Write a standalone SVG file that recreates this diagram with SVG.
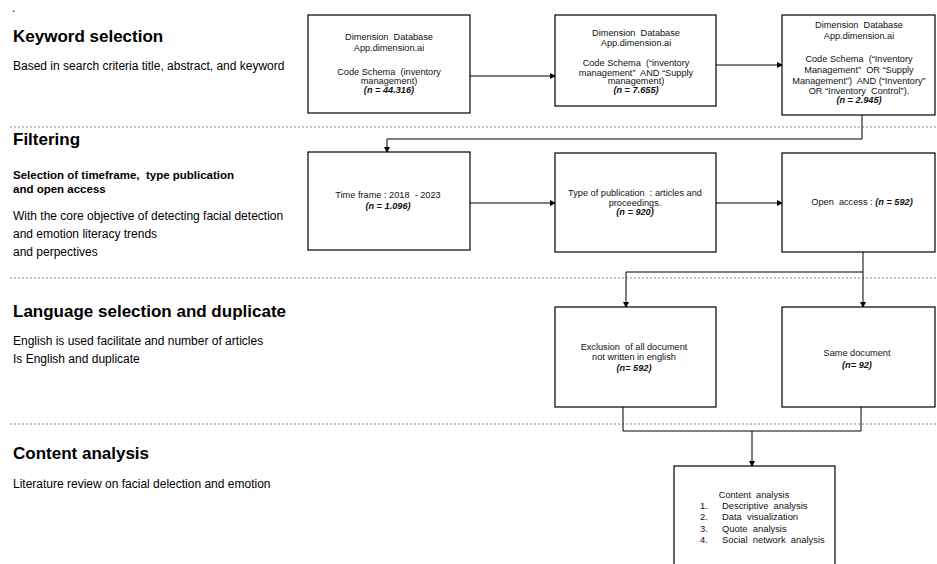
<svg xmlns="http://www.w3.org/2000/svg" width="937" height="564" viewBox="0 0 937 564">
<defs>
<marker id="ah" markerWidth="6" markerHeight="6" refX="5" refY="3" orient="auto" markerUnits="userSpaceOnUse">
<path d="M0,0 L6,3 L0,6 Z" fill="#000"/>
</marker>
<style>
text{white-space:pre}
.box{fill:#fff;stroke:#000;stroke-width:1.2}
.t{font-family:"Liberation Sans",Arial,sans-serif;font-size:9.2px;fill:#111;text-anchor:middle}
.n{font-style:italic;font-weight:bold}
.c{fill:none;stroke:#000;stroke-width:1}
.sep{stroke:#888;stroke-width:1;stroke-dasharray:2,2}
.h{font-family:"Liberation Sans",Arial,sans-serif;font-size:17px;font-weight:bold;fill:#000}
.d{font-family:"Liberation Sans",Arial,sans-serif;font-size:12px;fill:#000}
.b{font-family:"Liberation Sans",Arial,sans-serif;font-size:11.5px;font-weight:bold;fill:#000}
.l{font-family:"Liberation Sans",Arial,sans-serif;font-size:9.4px;fill:#111}
</style>
</defs>
<rect width="937" height="564" fill="#fff"/>

<g id="separators">
<line class="sep" x1="10" y1="127" x2="937" y2="127"/>
<line class="sep" x1="10" y1="278" x2="937" y2="278"/>
<line class="sep" x1="10" y1="424" x2="937" y2="424"/>
</g>

<g id="labels">
<text class="d" x="12" y="12">.</text>
<text class="h" x="13" y="42">Keyword selection</text>
<text class="d" x="13" y="70">Based in search criteria title, abstract, and keyword</text>
<text class="h" x="13" y="145">Filtering</text>
<text class="b" x="13" y="179">Selection of timeframe,  type publication</text>
<text class="b" x="13" y="193">and open access</text>
<text class="d" x="13" y="220">With the core objective of detecting facial detection</text>
<text class="d" x="13" y="238">and emotion literacy trends</text>
<text class="d" x="13" y="256">and perpectives</text>
<text class="h" x="13" y="317">Language selection and duplicate</text>
<text class="d" x="13" y="345">English is used facilitate and number of articles</text>
<text class="d" x="13" y="363">Is English and duplicate</text>
<text class="h" x="13" y="459">Content analysis</text>
<text class="d" x="13" y="488">Literature review on facial delection and emotion</text>
</g>

<g id="connectors">
<line class="c" x1="470" y1="76" x2="555" y2="76" marker-end="url(#ah)"/>
<line class="c" x1="716" y1="65" x2="782" y2="65" marker-end="url(#ah)"/>
<polyline class="c" points="862,115 862,139 387,139 387,152" marker-end="url(#ah)"/>
<line class="c" x1="470" y1="203" x2="555" y2="203" marker-end="url(#ah)"/>
<line class="c" x1="716" y1="203" x2="782" y2="203" marker-end="url(#ah)"/>
<line class="c" x1="863" y1="252" x2="863" y2="307" marker-end="url(#ah)"/>
<polyline class="c" points="863,272 626,272 626,307" marker-end="url(#ah)"/>
<polyline class="c" points="623,407 623,431 861,431 861,407"/>
<line class="c" x1="752" y1="431" x2="752" y2="466" marker-end="url(#ah)"/>
</g>

<g id="box1">
<rect class="box" x="308" y="15" width="162" height="98"/>
<text class="t" x="389" y="40">Dimension  Database</text>
<text class="t" x="389" y="51">App.dimension.ai</text>
<text class="t" x="389" y="75">Code Schema  (inventory</text>
<text class="t" x="389" y="84">management)</text>
<text class="t n" x="389" y="93">(n = 44.316)</text>
</g>

<g id="box2">
<rect class="box" x="555" y="15" width="161" height="91"/>
<text class="t" x="636" y="36">Dimension  Database</text>
<text class="t" x="636" y="46">App.dimension.ai</text>
<text class="t" x="636" y="66">Code Schema  (“inventory</text>
<text class="t" x="636" y="75.5">management”  AND “Supply</text>
<text class="t" x="636" y="84">management)</text>
<text class="t n" x="636" y="93">(n = 7.655)</text>
</g>

<g id="box3">
<rect class="box" x="782" y="15" width="153" height="100"/>
<text class="t" x="859" y="28">Dimension  Database</text>
<text class="t" x="859" y="39">App.dimension.ai</text>
<text class="t" x="859" y="62">Code Schema  (“Inventory</text>
<text class="t" x="859" y="73">Management”  OR “Supply</text>
<text class="t" x="859" y="83.5">Management”)  AND (“Inventory”</text>
<text class="t" x="859" y="93.5">OR “Inventory  Control”).</text>
<text class="t n" x="859" y="103">(n = 2.945)</text>
</g>

<g id="box4">
<rect class="box" x="308" y="152" width="162" height="98"/>
<text class="t" x="388" y="198">Time frame : 2018  - 2023</text>
<text class="t n" x="388" y="209">(n = 1.096)</text>
</g>

<g id="box5">
<rect class="box" x="555" y="153" width="161" height="99"/>
<text class="t" x="635" y="196">Type of publication  : articles and</text>
<text class="t" x="635" y="206">proceedings.</text>
<text class="t n" x="635" y="215">(n = 920)</text>
</g>

<g id="box6">
<rect class="box" x="782" y="153" width="153" height="99"/>
<text class="t" x="862" y="205">Open  access : <tspan class="n">(n = 592)</tspan></text>
</g>

<g id="box7">
<rect class="box" x="555" y="307" width="161" height="100"/>
<text class="t" x="634" y="350">Exclusion  of all document</text>
<text class="t" x="634" y="360">not written in english</text>
<text class="t n" x="634" y="371">(n= 592)</text>
</g>

<g id="box8">
<rect class="box" x="782" y="307" width="153" height="100"/>
<text class="t" x="857" y="356">Same document</text>
<text class="t n" x="857" y="368">(n= 92)</text>
</g>

<g id="box9">
<rect class="box" x="674" y="466" width="161" height="100"/>
<text class="t" x="754" y="498">Content  analysis</text>
<text class="l" x="700" y="509">1.</text><text class="l" x="722" y="509">Descriptive  analysis</text>
<text class="l" x="700" y="520">2.</text><text class="l" x="722" y="520">Data  visualization</text>
<text class="l" x="700" y="532">3.</text><text class="l" x="722" y="532">Quote  analysis</text>
<text class="l" x="700" y="543">4.</text><text class="l" x="722" y="543">Social  network  analysis</text>
</g>
</svg>
